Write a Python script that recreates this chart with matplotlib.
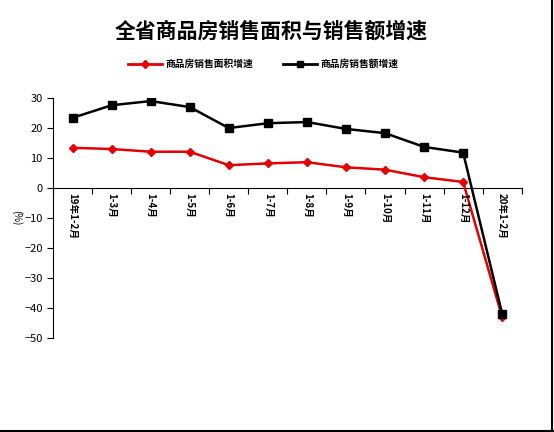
import matplotlib.pyplot as plt
from matplotlib.lines import Line2D

plt.rcParams['font.family'] = ['Noto Sans CJK SC', 'DejaVu Sans']

months = ['19年1-2月', '1-3月', '1-4月', '1-5月', '1-6月', '1-7月', '1-8月',
          '1-9月', '1-10月', '1-11月', '1-12月', '20年1-2月']
area_growth = [13.4, 13.0, 12.1, 12.1, 7.6, 8.2, 8.6, 6.9, 6.1, 3.6, 2.0, -43.1]
sales_growth = [23.4, 27.6, 29.0, 27.0, 20.0, 21.6, 22.0, 19.7, 18.3, 13.7, 11.8, -42.0]
yticks = [30, 20, 10, 0, -10, -20, -30, -40, -50]

fig = plt.figure(figsize=(5.54, 4.32), dpi=100)
ax = fig.add_axes([0.0957, 0.218, 0.846, 0.555])

x = list(range(len(months)))
ax.plot(x, area_growth, color='#e00000', lw=1.8, marker='D', ms=4,
        label='商品房销售面积增速', zorder=3)
ax.plot(x, sales_growth, color='black', lw=1.8, marker='s', ms=6,
        label='商品房销售额增速', zorder=4)

ax.set_xlim(-0.5, len(months) - 0.5)
ax.set_ylim(-50, 30)
ax.set_yticks(yticks)
ax.tick_params(axis='y', labelsize=8, length=4, direction='out')

# x axis at zero, ticks between categories
ax.spines['top'].set_visible(False)
ax.spines['right'].set_visible(False)
ax.spines['bottom'].set_position(('data', 0))
ax.set_xticks([i - 0.5 for i in range(len(months) + 1)])
ax.set_xticklabels([])
ax.tick_params(axis='x', length=4, direction='out')
for i, m in enumerate(months):
    ax.text(i, -1.8, m, rotation=270, ha='center', va='top',
            fontsize=7, fontweight='bold')

ax.text(-0.077, 0.5, '(%)', transform=ax.transAxes, rotation=270,
        ha='center', va='center', fontsize=7)

fig.text(0.49, 0.928, '全省商品房销售面积与销售额增速', ha='center', va='center',
         fontsize=15, fontweight='bold')

handles = [Line2D([], [], color='#e00000', lw=2, marker='D', ms=4),
           Line2D([], [], color='black', lw=2, marker='s', ms=5)]
fig.legend(handles, ['商品房销售面积增速', '商品房销售额增速'],
           loc='center', bbox_to_anchor=(0.475, 0.852), ncol=2, frameon=False,
           prop={'size': 7, 'weight': 'bold'}, handlelength=3.5,
           columnspacing=3, handletextpad=0.4)

# chart border (right and bottom edges visible)
fig.add_artist(Line2D([0.997, 0.997], [0, 1], color='black', lw=1.5,
                      transform=fig.transFigure))
fig.add_artist(Line2D([0, 1], [0.003, 0.003], color='black', lw=1.5,
                      transform=fig.transFigure))

fig.savefig('out.png', dpi=100)
